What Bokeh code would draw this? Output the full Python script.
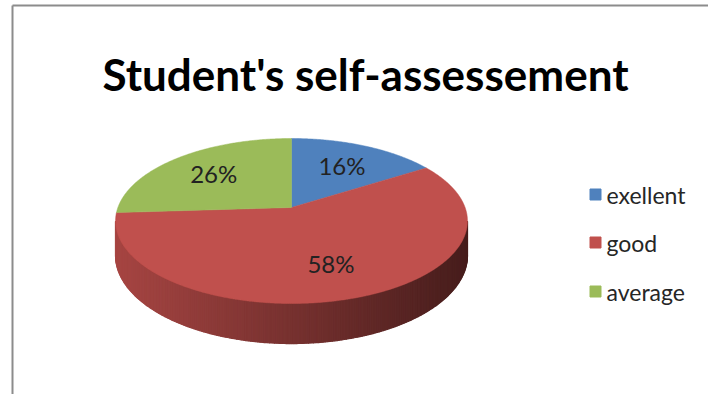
import numpy as np
from bokeh.plotting import figure
from bokeh.models import Range1d
from bokeh.core.properties import value
from bokeh.embed import file_html
from bokeh.resources import INLINE

# ---- data ----
categories = ["exellent", "good", "average"]
percent = [16, 58, 26]
colors = ["#4F81BD", "#C0504D", "#9BBB59"]
chart_title = "Student's self-assessement"

# ---- layout ----
W, H = 708, 394
CX, CY = 291.0, 207.0      # apex of the pie (screen px)
A, B = 173.6, 80.3         # horizontal / vertical radius scale
K = 0.1636                 # perspective strength
DROP = 33.5                # thickness of the pie
FONT = "Lato"

p = figure(width=W, height=H, x_range=Range1d(0, W), y_range=Range1d(H, 0),
           output_backend="svg", toolbar_location=None, min_border=0)
p.axis.visible = False
p.grid.visible = False
p.outline_line_color = None
p.background_fill_color = "white"
p.border_fill_color = "white"


def proj(theta_deg, r=1.0, drop=0.0):
    t = np.radians(theta_deg)
    u = r * np.sin(t)
    v = r * np.cos(t)
    s = 1.0 / (1.0 + K * v)
    return CX + A * u * s, CY - B * v * s + drop * s


def hex_rgb(h):
    h = h.lstrip("#")
    return [int(h[i:i + 2], 16) for i in (0, 2, 4)]


def shade(h, f):
    r, g, b = hex_rgb(h)
    return "#%02x%02x%02x" % (int(r * f), int(g * f), int(b * f))


total = float(sum(percent))
cum = np.concatenate([[0.0], np.cumsum(percent)]) / total * 360.0

# ---- side wall (front, visible part) ----
th_r = np.degrees(np.arccos(-K))
th_l = 360.0 - th_r
thetas = np.linspace(th_r, th_l, 241)
xs_all, _ = proj(thetas)
xmin, xmax = xs_all.min(), xs_all.max()
sx, sy, sc = [], [], []
for i in range(len(thetas) - 1):
    t0, t1 = thetas[i], thetas[i + 1]
    x0, y0 = proj(t0)
    x1, y1 = proj(t1)
    x2, y2 = proj(t1, drop=DROP)
    x3, y3 = proj(t0, drop=DROP)
    mid = 0.5 * (t0 + t1)
    idx = int(np.searchsorted(cum, mid, side="right") - 1)
    idx = min(max(idx, 0), len(percent) - 1)
    tt = ((x0 + x1) / 2 - xmin) / (xmax - xmin)
    f = 0.87 - 0.50 * tt
    sx.append([x0, x1, x2, x3])
    sy.append([y0, y1, y2, y3])
    sc.append(shade(colors[idx], f))
p.patches(sx, sy, fill_color=sc, line_color=sc, line_width=1.2)

# ---- top face slices ----
tx, ty = [], []
for i in range(len(percent)):
    a0, a1 = cum[i], cum[i + 1]
    th = np.linspace(a0, a1, max(3, int((a1 - a0) * 2)))
    X, Y = proj(th)
    tx.append([CX] + list(X))
    ty.append([CY] + list(Y))
p.patches(tx, ty, fill_color=colors, line_color=colors, line_width=0.5)

# ---- percentage labels ----
mids = 0.5 * (cum[:-1] + cum[1:])
lx, ly = proj(mids, r=0.66)
p.text(x=list(lx), y=list(ly), text=["%d%%" % v for v in percent],
       text_font=value(FONT), text_font_size="24px", text_color="#222222",
       text_align="center", text_baseline="middle")

# ---- title ----
p.text(x=[365], y=[73], text=[chart_title], text_font=value(FONT),
       text_font_size="44px", text_font_style="bold", text_color="#000000",
       text_align="center", text_baseline="alphabetic")

# ---- legend ----
leg_y = [194, 242, 291]
p.scatter(x=[595] * 3, y=leg_y, marker="square", size=11,
          fill_color=colors, line_color=colors)
p.text(x=[606] * 3, y=leg_y, text=categories, text_font=value(FONT),
       text_font_size="23px", text_color="#262626",
       text_align="left", text_baseline="middle")

# ---- chart frame (top & left edges visible) ----
p.segment(x0=[12, 12], y0=[5, 5], x1=[W, 12], y1=[5, H],
          line_color="#8c8c8c", line_width=2)

open("out.html", "w").write(file_html(p, INLINE))
